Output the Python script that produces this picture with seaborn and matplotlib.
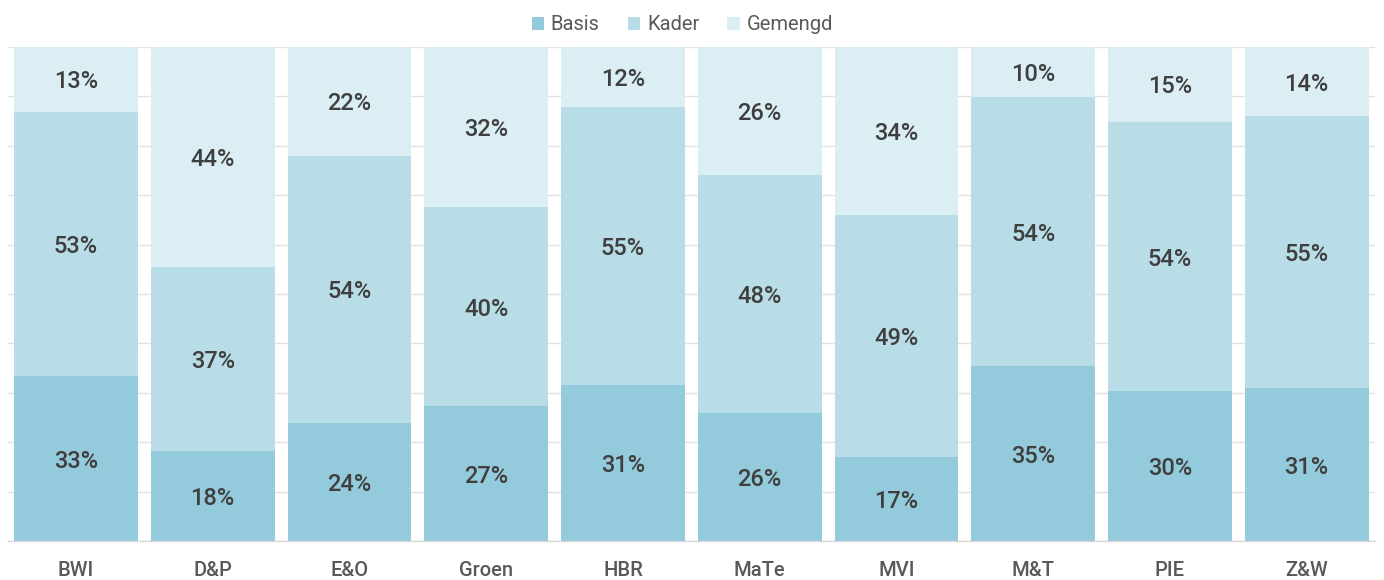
"""100% stacked bar chart: Basis / Kader / Gemengd per domain."""

import matplotlib.pyplot as plt
import numpy as np
import pandas as pd
import seaborn as sns
from matplotlib.patches import Patch

# data (percentages as shown on the labels)
categories = ["BWI", "D&P", "E&O", "Groen", "HBR", "MaTe", "MVI", "M&T", "PIE", "Z&W"]
basis = [33, 18, 24, 27, 31, 26, 17, 35, 30, 31]
kader = [53, 37, 54, 40, 55, 48, 49, 54, 54, 55]
gemengd = [13, 44, 22, 32, 12, 26, 34, 10, 15, 14]

series_names = ["Basis", "Kader", "Gemengd"]
colors = ["#94cbdc", "#b8dde7", "#dbeef4"]
label_color = "#3f3f3f"
tick_color = "#595959"

sns.set_theme(style="white")
plt.rcParams["font.family"] = ["Roboto", "DejaVu Sans"]

df = pd.DataFrame({"cat": categories, "Basis": basis, "Kader": kader, "Gemengd": gemengd})
totals = df[series_names].sum(axis=1)
shares = df[series_names].div(totals, axis=0)
cum = shares.cumsum(axis=1)

fig = plt.figure(figsize=(13.84, 5.8), dpi=100)
ax = fig.add_axes([0.0055, 0.067, 0.988, 0.852])

# draw tallest stack first, then overlay the lower parts
for name, col in zip(reversed(series_names), reversed(colors)):
    sns.barplot(x=df["cat"], y=cum[name], color=col, saturation=1, width=0.905,
                edgecolor="none", linewidth=0, ax=ax, zorder=2)

# segment labels
for i in range(len(df)):
    lower = 0.0
    for name in series_names:
        h = shares.loc[i, name]
        ax.text(i, lower + h / 2 - 0.005, f"{df.loc[i, name]}%", ha="center", va="center",
                fontsize=17, fontweight="medium", color=label_color, zorder=3)
        lower += h

ax.set_xlim(-0.5, len(df) - 0.5)
ax.set_ylim(0, 1)
ax.set_yticks(np.arange(0, 1.01, 0.1))
ax.set_yticklabels([])
ax.yaxis.grid(True, color="#e2e2e2", linewidth=1)
ax.set_axisbelow(True)
ax.tick_params(axis="y", length=0)
ax.tick_params(axis="x", length=5, color="#d0d0d0", width=1, pad=9,
               labelsize=14.5, labelcolor=tick_color)
for lab in ax.get_xticklabels():
    lab.set_fontweight("medium")
ax.set_xlabel("")
ax.set_ylabel("")
for side in ["top", "right", "left"]:
    ax.spines[side].set_visible(False)
ax.spines["bottom"].set_color("#d8d8d8")
ax.spines["bottom"].set_linewidth(1)

handles = [Patch(facecolor=c, edgecolor="none", label=n) for n, c in zip(series_names, colors)]
fig.legend(handles=handles, loc="upper center", bbox_to_anchor=(0.493, 1.005), ncol=3,
           frameon=False, fontsize=14.5, handlelength=0.6, handleheight=0.6,
           handletextpad=0.35, columnspacing=1.4, labelcolor=tick_color)

fig.savefig("out.png", dpi=100)
plt.close(fig)
